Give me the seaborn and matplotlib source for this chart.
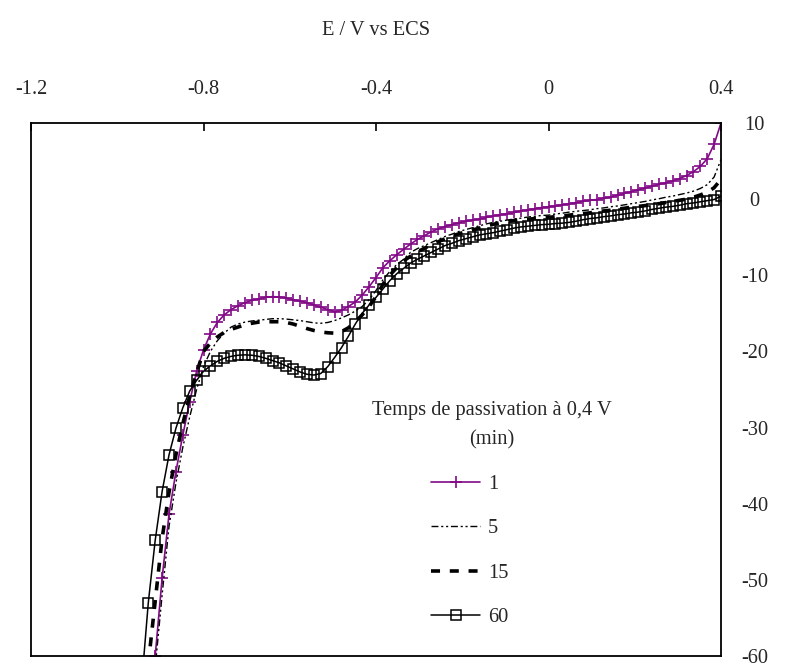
import numpy as np
import pandas as pd
import matplotlib
matplotlib.use("Agg")
import matplotlib.pyplot as plt
import seaborn as sns

# ---- data ----
E = [-0.944, -0.928, -0.912, -0.896, -0.880, -0.864, -0.848, -0.832, -0.816, -0.800,
     -0.784, -0.768, -0.752, -0.736, -0.720, -0.704, -0.688, -0.672, -0.656, -0.640,
     -0.624, -0.608, -0.592, -0.576, -0.560, -0.544, -0.528, -0.512, -0.496, -0.480,
     -0.464, -0.448, -0.432, -0.416, -0.400, -0.384, -0.368, -0.352, -0.336, -0.320,
     -0.304, -0.288, -0.272, -0.256, -0.240, -0.224, -0.208, -0.192, -0.176, -0.160,
     -0.144, -0.128, -0.112, -0.096, -0.080, -0.064, -0.048, -0.032, -0.016, 0.000,
     0.016, 0.032, 0.048, 0.064, 0.080, 0.096, 0.112, 0.128, 0.144, 0.160,
     0.176, 0.192, 0.208, 0.224, 0.240, 0.256, 0.272, 0.288, 0.304, 0.320,
     0.336, 0.352, 0.368, 0.384, 0.400]

I_1min = [-80, -70, -60, -49.8, -41.4, -35.8, -31.0, -26.6, -22.6, -19.8,
          -17.7, -16.2, -15.2, -14.5, -14.0, -13.6, -13.3, -13.1, -12.9, -12.8,
          -12.85, -13.0, -13.2, -13.4, -13.6, -13.9, -14.2, -14.5, -14.8, -14.6,
          -14.1, -13.5, -12.6, -11.5, -10.3, -9.0, -8.1, -7.3, -6.6, -5.9,
          -5.3, -4.8, -4.3, -3.9, -3.6, -3.35, -3.1, -2.9, -2.75, -2.6,
          -2.4, -2.2, -2.05, -1.9, -1.75, -1.55, -1.4, -1.25, -1.1, -1.0,
          -0.9, -0.75, -0.6, -0.45, -0.3, -0.15, -0.05, 0.1, 0.3, 0.5,
          0.75, 1.0, 1.25, 1.45, 1.7, 1.95, 2.15, 2.4, 2.7, 3.1,
          3.6, 4.3, 5.3, 7.2, 10.0]

I_5min = [-82, -72, -61.5, -52, -43, -37.3, -32.6, -28.6, -25.0, -22.0,
          -20.0, -18.6, -17.6, -16.8, -16.4, -16.15, -16.0, -15.9, -15.8, -15.7,
          -15.7, -15.75, -15.85, -15.95, -16.1, -16.25, -16.3, -16.2, -15.95, -15.6,
          -15.2, -14.7, -14.1, -13.2, -12.0, -10.6, -9.5, -8.6, -7.9, -7.0,
          -6.5, -6.1, -5.7, -5.3, -4.9, -4.6, -4.25, -4.0, -3.75, -3.5,
          -3.25, -3.05, -2.9, -2.75, -2.6, -2.5, -2.35, -2.25, -2.15, -2.1,
          -1.95, -1.85, -1.7, -1.6, -1.5, -1.4, -1.25, -1.15, -1.0, -0.9,
          -0.75, -0.6, -0.45, -0.3, -0.1, 0.05, 0.25, 0.4, 0.6, 0.8,
          1.05, 1.4, 1.9, 2.9, 5.2]

I_15min = [-72, -61, -52.8, -44.6, -38.5, -33.6, -29.5, -25.9, -22.8, -20.0,
           -18.9, -18.1, -17.5, -17.1, -16.8, -16.5, -16.3, -16.15, -16.1, -16.1,
           -16.1, -16.2, -16.4, -16.7, -17.0, -17.25, -17.45, -17.55, -17.6, -17.4,
           -16.9, -16.1, -15.2, -14.1, -12.8, -11.2, -10.0, -9.0, -8.1, -7.5,
           -6.95, -6.45, -6.0, -5.6, -5.2, -4.85, -4.55, -4.3, -4.05, -3.8,
           -3.55, -3.3, -3.1, -2.95, -2.8, -2.7, -2.65, -2.55, -2.5, -2.4,
           -2.3, -2.25, -2.1, -2.0, -1.9, -1.8, -1.65, -1.55, -1.45, -1.3,
           -1.2, -1.05, -0.95, -0.85, -0.7, -0.6, -0.45, -0.3, -0.15, 0.0,
           0.25, 0.55, 0.9, 1.5, 2.6]

I_60min = [-64, -53.0, -44.8, -38.4, -33.6, -30.1, -27.4, -25.2, -23.8, -22.6,
           -21.9, -21.3, -20.9, -20.65, -20.5, -20.45, -20.5, -20.65, -20.9, -21.2,
           -21.5, -21.9, -22.3, -22.7, -23.0, -23.1, -22.9, -22.0, -20.8, -19.5,
           -18.0, -16.4, -15.0, -13.9, -12.9, -11.8, -10.7, -9.8, -9.1, -8.4,
           -7.9, -7.45, -7.0, -6.55, -6.1, -5.8, -5.45, -5.2, -4.95, -4.7,
           -4.55, -4.4, -4.2, -4.0, -3.8, -3.65, -3.55, -3.45, -3.35, -3.3,
           -3.2, -3.15, -3.05, -2.9, -2.7, -2.55, -2.45, -2.3, -2.2, -2.05,
           -1.95, -1.8, -1.7, -1.55, -1.35, -1.2, -1.05, -0.95, -0.8, -0.6,
           -0.5, -0.35, -0.2, -0.05, 0.4]

series_labels = ["1", "5", "15", "60"]
x_ticks = [-1.2, -0.8, -0.4, 0.0, 0.4]
x_tick_labels = ["-1.2", "-0.8", "-0.4", "0", "0.4"]
y_ticks = [10, 0, -10, -20, -30, -40, -50, -60]
y_tick_labels = ["10", "0", "-10", "-20", "-30", "-40", "-50", "-60"]

# ---- style ----
sns.set_theme(style="white")
plt.rcParams["font.family"] = ["Liberation Serif", "DejaVu Serif"]
plt.rcParams["axes.unicode_minus"] = False
FS = 14.7

fig = plt.figure(figsize=(7.85, 6.64), dpi=100)
ax = fig.add_axes([31 / 785, 1 - 656 / 664, (721 - 31) / 785, (656 - 123) / 664])

purple = "#820A86"
common = dict(ax=ax, estimator=None, sort=False)

sns.lineplot(x=E, y=I_1min, color=purple, linewidth=1.2, marker="+",
             markersize=8.5, markeredgewidth=1.2, markeredgecolor=purple,
             label=series_labels[0], **common)
sns.lineplot(x=E, y=I_5min, color="black", linewidth=1.0,
             label=series_labels[1], **common)
ax.lines[-1].set_dashes([5, 2, 1.5, 2, 1.5, 2])
sns.lineplot(x=E, y=I_15min, color="black", linewidth=2.6,
             label=series_labels[2], **common)
ax.lines[-1].set_dashes([2.5, 2.7])
sns.lineplot(x=E, y=I_60min, color="black", linewidth=1.1, marker="s",
             markersize=6.5, markeredgewidth=1.1, markeredgecolor="black",
             markerfacecolor="none", label=series_labels[3], **common)

ax.set_xlim(-1.2, 0.4)
ax.set_ylim(-60, 10)
ax.xaxis.tick_top()
ax.xaxis.set_label_position("top")
ax.yaxis.tick_right()
ax.set_xticks(x_ticks)
ax.set_xticklabels(x_tick_labels, fontsize=FS)
ax.set_yticks(y_ticks)
ax.set_yticklabels(y_tick_labels, fontsize=FS)
for lab in ax.get_yticklabels():
    lab.set_horizontalalignment("center")
ax.tick_params(axis="x", direction="in", length=6, width=1.2, color="black",
               top=True, bottom=False, pad=17)
ax.tick_params(axis="y", length=0, right=True, left=False, pad=24)
ax.set_xlabel("E / V vs ECS", fontsize=FS, labelpad=33)
ax.set_ylabel("")
ax.grid(False)
for sp in ax.spines.values():
    sp.set_color("black")
    sp.set_linewidth(1.3)
    sp.set_visible(True)

leg = ax.legend(loc="upper left", bbox_to_anchor=(431 / 785, 1 - 475 / 664),
                bbox_transform=fig.transFigure, frameon=False, fontsize=FS,
                handlelength=2.4, handletextpad=0.4, labelspacing=1.22,
                borderpad=0, borderaxespad=0, numpoints=1)
fig.text(492 / 785, 1 - 411 / 664, "Temps de passivation à 0,4 V",
         ha="center", va="center", fontsize=FS)
fig.text(492 / 785, 1 - 440 / 664, "(min)", ha="center", va="center", fontsize=FS)

fig.savefig("out.png", dpi=100)
